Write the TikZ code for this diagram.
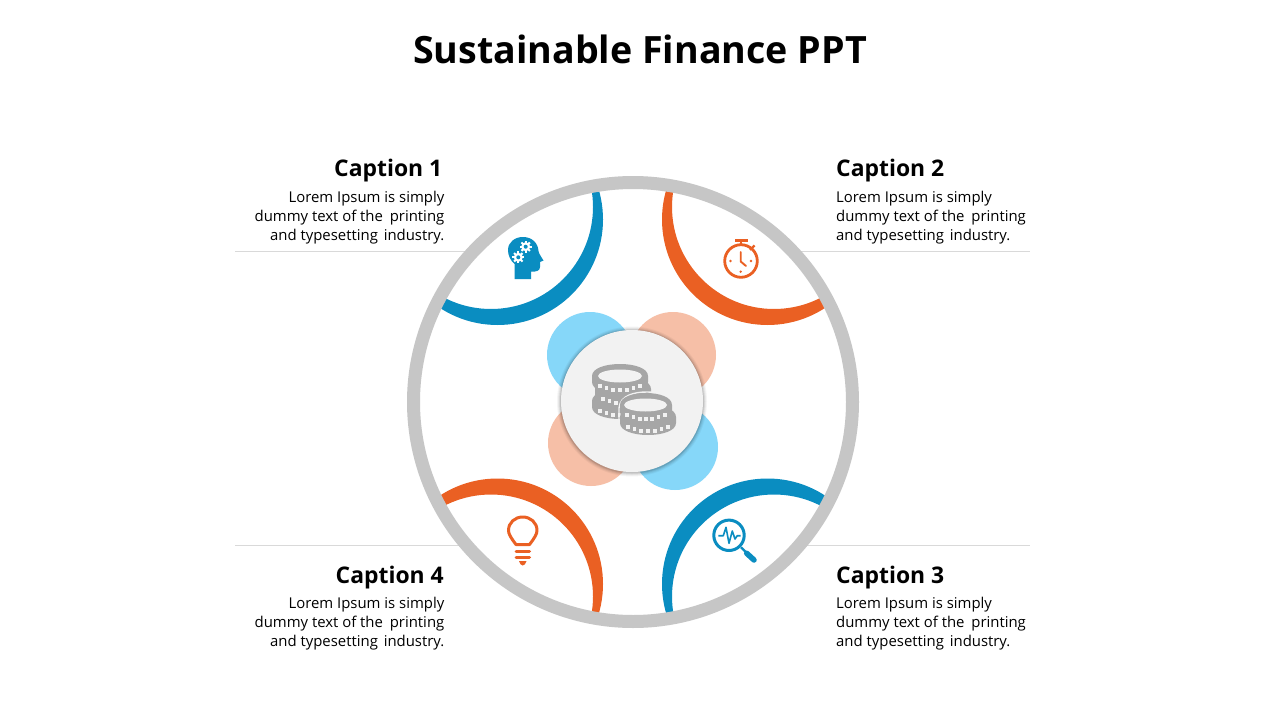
\documentclass[tikz,border=0pt]{standalone}
\usepackage{fontspec}
\setmainfont{Open Sans}
\usetikzlibrary{calc}
\definecolor{ringgray}{HTML}{C6C6C6}
\definecolor{rulegray}{HTML}{D9D9D9}
\definecolor{mainblue}{HTML}{0A8DC1}
\definecolor{mainorange}{HTML}{EA6023}
\definecolor{softblue}{HTML}{86D7F9}
\definecolor{softpeach}{HTML}{F6BFA7}
\definecolor{hubfill}{HTML}{F2F2F2}
\definecolor{coingray}{HTML}{A6A6A6}
\tikzset{
  titletext/.style={font=\fontsize{37.6}{42}\selectfont\bfseries,inner sep=0pt,anchor=base},
  capl/.style={font=\fontsize{22.9}{26}\selectfont\bfseries,inner sep=0pt,anchor=base east},
  capr/.style={font=\fontsize{22.9}{26}\selectfont\bfseries,inner sep=0pt,anchor=base west},
  bodyl/.style={font=\fontsize{14.9}{19}\selectfont,inner sep=0pt,anchor=base east,align=right},
  bodyr/.style={font=\fontsize{14.9}{19}\selectfont,inner sep=0pt,anchor=base west,align=left},
  rulel/.style={draw=rulegray,line width=0.9pt},
}
\newcommand{\crescent}[6]{% color, outer cx cy, inner cx cy, inner r
  \begin{scope}
    \clip (633,402) circle[radius=218pt];
    \fill[#1,even odd rule] (#2,#3) circle[radius=105.5pt] (#4,#5) circle[radius=#6pt];
  \end{scope}}
\newcommand{\onecoin}[3]{% cx cy rx
  \fill[coingray] (#1-#3,#2) -- (#1-#3,#2+6) .. controls (#1-#3,#2+22) and (#1+#3,#2+22) .. (#1+#3,#2+6) -- (#1+#3,#2)
     .. controls (#1+#3,#2-16) and (#1-#3,#2-16) .. (#1-#3,#2) -- cycle;
  \foreach \t in {-0.75,-0.50,-0.25,0,0.25,0.50,0.75}{
    \pgfmathsetmacro{\sx}{#1+\t*(#3-1)}
    \pgfmathsetmacro{\sy}{#2+14-6.5*\t*\t}
    \fill[hubfill] (\sx-1.8,\sy-2) rectangle (\sx+1.8,\sy+2);
  }}
\newcommand{\gearicon}[2]{%
  \foreach \a in {0,45,...,315}{
    \draw[white,line width=2pt] ($(#1,#2)+(\a:3.5pt)$) -- ($(#1,#2)+(\a:6pt)$);
  }
  \fill[white] (#1,#2) circle[radius=4.5pt];
  \fill[mainblue] (#1,#2) circle[radius=2pt];}
\newcommand{\loremtext}{Lorem Ipsum is simply\\dummy text of the\hspace{3pt} printing\\and typesetting\hspace{2pt} industry.}
\begin{document}
\begin{tikzpicture}[x=1pt,y=-1pt]
\useasboundingbox (0,0) rectangle (1280,720);
\fill[white] (0,0) rectangle (1280,720);

% separator rules
\coordinate (rtl) at (235,251.5); \coordinate (rtle) at (475,251.5);
\coordinate (rtr) at (790,251.5); \coordinate (rtre) at (1030,251.5);
\coordinate (rbl) at (235,545.5); \coordinate (rble) at (470,545.5);
\coordinate (rbr) at (795,545.5); \coordinate (rbre) at (1030,545.5);
\draw[rulel] (rtl) -- (rtle);
\draw[rulel] (rtr) -- (rtre);
\draw[rulel] (rbl) -- (rble);
\draw[rulel] (rbr) -- (rbre);

% crescents
\crescent{mainblue}{497.5}{219.5}{491}{207}{102}
\crescent{mainorange}{767.5}{219.5}{774}{207}{102}
\crescent{mainorange}{497.5}{584}{491}{596.5}{102}
\crescent{mainblue}{767.5}{584}{774}{596.5}{102}

% outer ring
\draw[ringgray,line width=13pt] (633,402) circle[radius=219.5pt];

% petals
\fill[softblue] (590,355) circle[radius=43pt];
\fill[softpeach] (673,355) circle[radius=43pt];
\fill[softpeach] (591,443) circle[radius=43pt];
\fill[softblue] (675,447) circle[radius=43pt];

% hub with soft shadow
\foreach \r/\o in {75/0.04,74/0.05,73/0.07,72/0.1}{
  \fill[black,opacity=\o] (632,401.5) circle[radius=\r pt];
}
\fill[hubfill] (632,401) circle[radius=71pt];

% coins
\onecoin{620}{401}{28}
\onecoin{623}{389}{28}
\onecoin{620}{376}{28}
\fill[hubfill] (620,376) ellipse[x radius=22pt,y radius=6.5pt];
\draw[hubfill,line width=1.4pt] (619,408) .. controls (620,395) and (635,392) .. (647,392) .. controls (665,392) and (676,400) .. (677,412) -- (677,430) .. controls (670,438) and (630,438) .. (619,428) -- cycle;
\onecoin{648}{417}{28}
\onecoin{646}{405}{26}
\fill[hubfill] (645.5,405) ellipse[x radius=21.5pt,y radius=6.5pt];

% head icon
\fill[mainblue] (514.5,279) -- (514.5,264) .. controls (510,260) and (508,255) .. (508,250)
  .. controls (508,242) and (515,237) .. (523,237) .. controls (532,237) and (538,243) .. (538.5,251)
  .. controls (539,254) and (542,258) .. (543.5,260.5) -- (540,262) -- (540,267)
  .. controls (540,271) and (536,272) .. (531,271.5) -- (531,279) -- cycle;
\gearicon{525.7}{246.7}
\gearicon{518.3}{257.3}

% stopwatch icon
\draw[mainorange,line width=2.8pt] (741,261) circle[radius=16.3pt];
\fill[mainorange] (735,238.7) rectangle (747.5,242);
\draw[mainorange,line width=2.6pt] (741,241) -- (741,245);
\draw[mainorange,line width=2.2pt] (750,250) -- (754.5,245.5);
\draw[mainorange,line width=1.9pt,line cap=round] (740.7,252) -- (740.7,261.5) -- (746,266);
\fill[mainorange] (730.5,261) circle[radius=1.3pt];
\fill[mainorange] (751,261) circle[radius=1.3pt];
\fill[mainorange] (740.7,271.7) circle[radius=1.3pt];

% bulb icon
\draw[mainorange,line width=3pt,line join=round] (516,544.5) .. controls (511,538) and (508.5,534) .. (508.5,530.5)
  .. controls (508.5,522.5) and (515,517) .. (522.7,517) .. controls (530.5,517) and (537,522.5) .. (537,530.5)
  .. controls (537,534) and (534.5,538) .. (529.5,544.5) -- cycle;
\draw[mainorange,line width=3pt,line cap=round] (516,551) -- (529.5,551);
\draw[mainorange,line width=3pt,line cap=round] (516,557) -- (529.5,557);
\fill[mainorange] (519,561) -- (526.5,561) .. controls (526,564) and (524,565.5) .. (522.7,565.5) .. controls (521.5,565.5) and (519.5,564) .. (519,561) -- cycle;

% magnifier icon
\draw[mainblue,line width=3pt] (729,535.3) circle[radius=15.2pt];
\draw[mainblue,line width=2.4pt] (741,547.3) -- (747,553.3);
\draw[mainblue,line width=5.5pt,line cap=round] (746.7,553.3) -- (754,560);
\draw[mainblue,line width=1.6pt,line join=round] (718.3,535.7) -- (723.3,535.7) -- (726,527.3) -- (729,543.3) -- (732.3,531) -- (735,539) -- (737.3,535.7) -- (740.7,535.7);

% texts
\node[titletext] (title) at (640,63) {Sustainable Finance PPT};
\node[capl] (c1) at (442.5,176) {Caption 1};
\node[capr] (c2) at (836,176) {Caption 2};
\node[capr] (c3) at (836,583) {Caption 3};
\node[capl] (c4) at (444,583) {Caption 4};
\node[bodyl] (b1) at (444.5,240) {\loremtext};
\node[bodyr] (b2) at (836,240) {\loremtext};
\node[bodyr] (b3) at (836,646) {\loremtext};
\node[bodyl] (b4) at (444.5,646) {\loremtext};
\end{tikzpicture}
\end{document}
